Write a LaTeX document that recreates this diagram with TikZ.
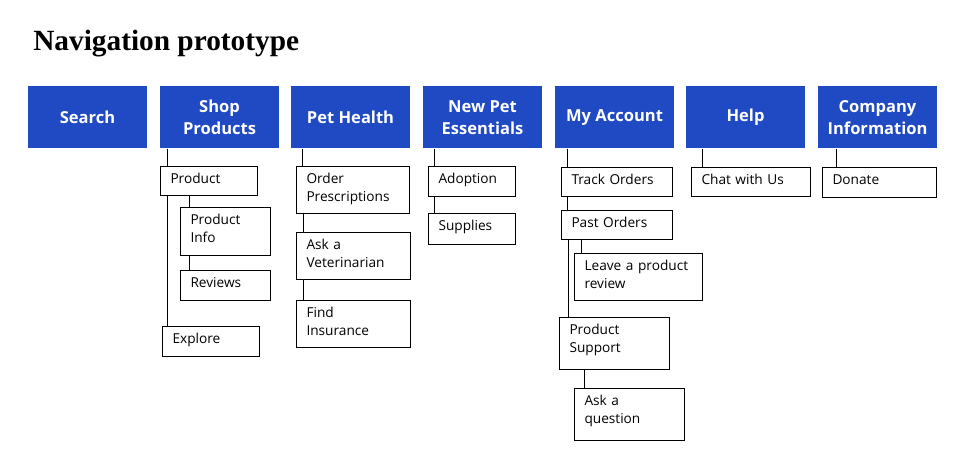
\documentclass[tikz,border=0pt]{standalone}
\usepackage{fontspec}
\setmainfont{Open Sans}
\newfontfamily\titlefont{Liberation Serif}
\definecolor{navblue}{RGB}{31,74,195}

\begin{document}
\begin{tikzpicture}[x=0.75pt,y=-0.75pt,
  header/.style={fill=navblue, text=white, font=\bfseries\fontsize{12.4}{16.5}\selectfont,
    anchor=north west, minimum width=88.9pt, minimum height=46.5pt, inner sep=0pt, align=center},
  item/.style 2 args={draw, fill=white, line width=0.75pt, anchor=north west, align=left,
    font=\fontsize{10.25}{13.5}\selectfont, inner xsep=7.5pt, inner ysep=0pt,
    text width=#1, text height=12.4pt, text depth=#2},
  link/.style={line width=0.75pt}]
  \useasboundingbox (0,0) rectangle (960,472);

  \node[anchor=base west, inner sep=0pt, font=\titlefont\bfseries\fontsize{22}{26}\selectfont] (title) at (33,50) {Navigation prototype};

  % top row
  \node[header] (search) at (28,86) {Search};
  \node[header] (shop) at (160,86) {Shop\\Products};
  \node[header] (health) at (291,86) {Pet Health};
  \node[header] (essentials) at (423,86) {New Pet\\Essentials};
  \node[header] (account) at (555,86) {My Account};
  \node[header] (help) at (686,86) {Help};
  \node[header] (company) at (818,86) {Company\\Information};

  % shop products
  \node[item={57.75pt}{9.35pt}] (product) at (160,166) {Product};
  \node[item={52.5pt}{23.6pt}] (info) at (180,207) {Product\\Info};
  \node[item={52.5pt}{10.1pt}] (reviews) at (180,270) {Reviews};
  \node[item={57.75pt}{10.1pt}] (explore) at (162,326) {Explore};

  % pet health
  \node[item={69.75pt}{22.85pt}] (prescriptions) at (296,166) {Order\\Prescriptions};
  \node[item={70.5pt}{22.85pt}] (vet) at (296,232) {Ask a\\Veterinarian};
  \node[item={70.5pt}{22.85pt}] (insurance) at (296,300) {Find\\Insurance};

  % new pet essentials
  \node[item={50.25pt}{10.1pt}] (adoption) at (428,166) {Adoption};
  \node[item={50.25pt}{10.85pt}] (supplies) at (428,213) {Supplies};

  % my account
  \node[item={68.25pt}{9.35pt}] (track) at (561,167) {Track Orders};
  \node[item={68.25pt}{9.35pt}] (past) at (561,210) {Past Orders};
  \node[item={81pt}{22.85pt}] (review) at (574,253) {Leave a product\\review};
  \node[item={67.5pt}{26.6pt}] (support) at (559,317) {Product\\Support};
  \node[item={67.5pt}{26.6pt}] (question) at (574,388) {Ask a\\question};

  % help, company
  \node[item={74.25pt}{9.35pt}] (chat) at (691,167) {Chat with Us};
  \node[item={70.5pt}{10.1pt}] (donate) at (822,167) {Donate};

  % links
  \draw[link] ([xshift=5.25pt]product.north west |- shop.south) -- ([xshift=5.25pt]product.north west);
  \draw[link] ([xshift=5.25pt]product.south west) -- ([xshift=5.25pt]product.south west |- explore.north);
  \draw[link] ([xshift=6.75pt]info.north west |- product.south) -- ([xshift=6.75pt]info.north west);
  \draw[link] ([xshift=6.75pt]info.south west) -- ([xshift=6.75pt]reviews.north west);
  \draw[link] ([xshift=4.5pt]prescriptions.north west |- health.south) -- ([xshift=4.5pt]prescriptions.north west);
  \draw[link] ([xshift=5.25pt]prescriptions.south west) -- ([xshift=5.25pt]vet.north west);
  \draw[link] ([xshift=5.25pt]vet.south west) -- ([xshift=5.25pt]insurance.north west);
  \draw[link] ([xshift=4.5pt]adoption.north west |- essentials.south) -- ([xshift=4.5pt]adoption.north west);
  \draw[link] ([xshift=4.5pt]adoption.south west) -- ([xshift=4.5pt]supplies.north west);
  \draw[link] ([xshift=4.5pt]track.north west |- account.south) -- ([xshift=4.5pt]track.north west);
  \draw[link] ([xshift=4.5pt]track.south west) -- ([xshift=4.5pt]past.north west);
  \draw[link] ([xshift=5.25pt]review.north west |- past.south) -- ([xshift=5.25pt]review.north west);
  \draw[link] ([xshift=6.75pt]support.north west |- past.south) -- ([xshift=6.75pt]support.north west);
  \draw[link] ([xshift=7.5pt]question.north west |- support.south) -- ([xshift=7.5pt]question.north west);
  \draw[link] ([xshift=8.25pt]chat.north west |- help.south) -- ([xshift=8.25pt]chat.north west);
  \draw[link] ([xshift=10.5pt]donate.north west |- company.south) -- ([xshift=10.5pt]donate.north west);
\end{tikzpicture}
\end{document}
